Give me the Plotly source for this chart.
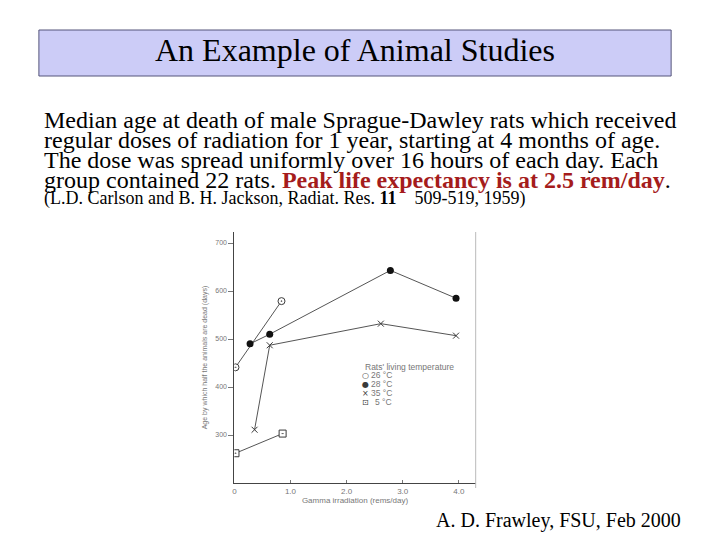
import plotly.graph_objects as go

# (Carlson & Jackson 1959)
dose_26 = [0.02, 0.84]
age_26 = [441, 579]

dose_28 = [0.28, 0.63, 2.78, 3.95]
age_28 = [490, 510, 643, 585]

dose_35 = [0.36, 0.63, 2.61, 3.95]
age_35 = [311, 487, 532, 507]

dose_5 = [0.02, 0.86]
age_5 = [262, 303]

x_ticks = [0, 1, 2, 3, 4]
x_ticklabels = ["0", "1.0", "2.0", "3.0", "4.0"]
y_ticks = [300, 400, 500, 600, 700]

W, H = 720, 540
ink = "#3a3a3a"
gray = "#777777"


def px(x):
    return x / W


def py(y):
    return 1 - y / H


fig = go.Figure()

line_style = dict(color="#555555", width=1)
fig.add_trace(go.Scatter(x=dose_26, y=age_26, mode="lines+markers", line=line_style,
                         marker=dict(symbol="circle-dot", size=7, color="white",
                                     line=dict(color=ink, width=1))))
fig.add_trace(go.Scatter(x=dose_28, y=age_28, mode="lines+markers", line=line_style,
                         marker=dict(symbol="circle", size=7, color="#111111")))
fig.add_trace(go.Scatter(x=dose_35, y=age_35, mode="lines+markers", line=line_style,
                         marker=dict(symbol="x-thin", size=6, color=ink,
                                     line=dict(color=ink, width=1))))
fig.add_trace(go.Scatter(x=dose_5, y=age_5, mode="lines+markers", line=line_style,
                         marker=dict(symbol="square-dot", size=7, color="white",
                                     line=dict(color=ink, width=1))))

fig.update_layout(
    width=W, height=H,
    margin=dict(l=0, r=0, t=0, b=0),
    paper_bgcolor="white", plot_bgcolor="white",
    showlegend=False,
    xaxis=dict(domain=[px(233), px(475)], range=[0, 4.3],
               tickvals=x_ticks, ticktext=x_ticklabels,
               ticks="inside", ticklen=3, tickcolor=gray,
               showline=True, linecolor="#444444", linewidth=1,
               mirror=False, showgrid=False, zeroline=False,
               tickfont=dict(family="Liberation Sans", size=8, color=gray),
               title=dict(text="Gamma irradiation (rems/day)", standoff=1,
                          font=dict(family="Liberation Sans", size=8, color=gray))),
    yaxis=dict(domain=[py(483), py(232)], range=[200, 723],
               tickvals=y_ticks, ticks="outside", ticklen=5, tickcolor=gray,
               showline=True, linecolor="#444444", linewidth=1,
               showgrid=False, zeroline=False,
               tickfont=dict(family="Liberation Sans", size=7, color=gray),
               title=dict(text="Age by which half the animals are dead (days)", standoff=6,
                          font=dict(family="Liberation Sans", size=7, color=gray))),
)

# right edge of the scanned figure
fig.add_shape(type="line", xref="paper", yref="paper",
              x0=px(475), x1=px(475), y0=py(488), y1=py(232),
              line=dict(color="#bbbbbb", width=1))

# title box
fig.add_shape(type="rect", xref="paper", yref="paper",
              x0=px(37), x1=px(671), y0=py(76), y1=py(30),
              fillcolor="#ccccf7", line=dict(color="#55557a", width=1), layer="below")

serif = "Liberation Serif"
ann = []
ann.append(dict(x=px(354), y=py(50), text="An Example of Animal Studies",
                font=dict(family=serif, size=32, color="black"),
                xanchor="center", yanchor="middle"))

body = [
    "Median age at death of male Sprague-Dawley rats which received",
    "regular doses of radiation for 1 year, starting at 4 months of age.",
    "The dose was spread uniformly over 16 hours of each day. Each",
    "group contained 22 rats. <b><span style='color:#a51c1c'>Peak life expectancy is at 2.5 rem/day</span></b>.",
]
for i, t in enumerate(body):
    ann.append(dict(x=px(40), y=py(120 + 20 * i), text=t,
                    font=dict(family=serif, size=24, color="black"),
                    xanchor="left", yanchor="middle"))

ann.append(dict(x=px(40), y=py(199),
                text="(L.D. Carlson and B. H. Jackson, Radiat. Res. <b>11</b>    509-519, 1959)",
                font=dict(family=serif, size=18, color="black"),
                xanchor="left", yanchor="middle"))

ann.append(dict(x=px(683), y=py(520), text="A. D. Frawley, FSU, Feb 2000",
                font=dict(family=serif, size=20, color="black"),
                xanchor="right", yanchor="middle"))

# legend drawn as in the original figure
sans = "Liberation Sans"
ann.append(dict(x=px(362), y=py(367), text="Rats' living temperature",
                font=dict(family=sans, size=8.5, color=gray), xanchor="left", yanchor="middle"))
leg = [("○", "26 °C"), ("●", "28 °C"), ("×", "35 °C"), ("⊡", "5 °C")]
for i, (sym, lab) in enumerate(leg):
    yy = py(375 + 9 * i)
    ann.append(dict(x=px(365), y=yy, text=sym, font=dict(family="DejaVu Sans", size=8, color=ink),
                    xanchor="center", yanchor="middle"))
    ann.append(dict(x=px(393), y=yy, text=lab, font=dict(family=sans, size=8.5, color=gray),
                    xanchor="right", yanchor="middle"))

for a in ann:
    a.update(xref="paper", yref="paper", showarrow=False)
fig.update_layout(annotations=ann)

fig.write_html("out.html", config={"displayModeBar": False},
               post_script="document.body.style.margin='0';")
